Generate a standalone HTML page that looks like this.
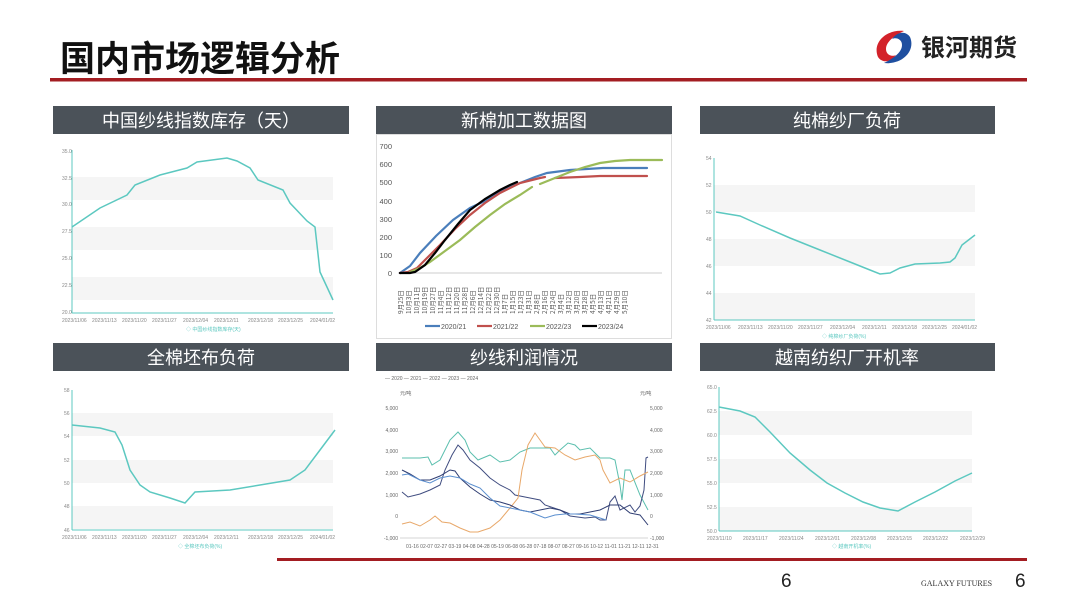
<!DOCTYPE html>
<html><head><meta charset="utf-8"><style>
body{margin:0;background:#fff;}
svg{display:block;font-family:"Liberation Sans","Noto Sans CJK SC",sans-serif;}
</style></head><body>
<svg width="1080" height="608" viewBox="0 0 1080 608" xmlns="http://www.w3.org/2000/svg">
<rect width="1080" height="608" fill="#fff"/>
<!-- title -->
<text x="60" y="71" font-size="35" font-weight="bold" fill="#111" font-family="'Noto Sans CJK SC',sans-serif">国内市场逻辑分析</text>
<rect x="50" y="78" width="977" height="3.5" fill="#a31d22"/>
<!-- logo -->
<g transform="translate(894,47)">
<path d="M-16,10 C-22,-4 -8,-18 10,-16 C2,-12 -8,-6 -8,2 C-8,8 -2,10 2,8 C-4,16 -12,16 -16,10Z" fill="#d3222a"/>
<path d="M16,-10 C22,4 8,18 -10,16 C-2,12 8,6 8,-2 C8,-8 2,-10 -2,-8 C4,-16 12,-16 16,-10Z" fill="#1f4fa0"/>
</g>
<text x="921" y="56" font-size="24" font-weight="bold" fill="#222" font-family="'Noto Sans CJK SC',sans-serif">银河期货</text>

<!-- headers -->
<g font-size="18" fill="#fff" text-anchor="middle" font-family="'Noto Sans CJK SC',sans-serif">
<rect x="53" y="106" width="296" height="28" fill="#4b5259"/><text x="201" y="127">中国纱线指数库存（天）</text>
<rect x="376" y="106" width="296" height="28" fill="#4b5259"/><text x="524" y="127">新棉加工数据图</text>
<rect x="700" y="106" width="295" height="28" fill="#4b5259"/><text x="847" y="127">纯棉纱厂负荷</text>
<rect x="53" y="343" width="296" height="28" fill="#4b5259"/><text x="201" y="364">全棉坯布负荷</text>
<rect x="376" y="343" width="296" height="28" fill="#4b5259"/><text x="524" y="364">纱线利润情况</text>
<rect x="700" y="343" width="295" height="28" fill="#4b5259"/><text x="847" y="364">越南纺织厂开机率</text>
</g>

<!-- chart 1 -->
<g font-size="5" fill="#888">
<rect x="72" y="177" width="261" height="23" fill="#f5f5f5"/><rect x="72" y="227" width="261" height="23" fill="#f5f5f5"/><rect x="72" y="277" width="261" height="23" fill="#f5f5f5"/>
<line x1="72" y1="150" x2="72" y2="313" stroke="#5cc8c0" stroke-width="1"/>
<line x1="72" y1="313" x2="333" y2="313" stroke="#5cc8c0" stroke-width="1"/>
<text x="62" y="153">35.0</text><text x="62" y="180">32.5</text><text x="62" y="206">30.0</text><text x="62" y="233">27.5</text><text x="62" y="260">25.0</text><text x="62" y="287">22.5</text><text x="62" y="314">20.0</text>
<text x="62" y="322">2023/11/06</text><text x="92" y="322">2023/11/13</text><text x="122" y="322">2023/11/20</text><text x="152" y="322">2023/11/27</text><text x="183" y="322">2023/12/04</text><text x="214" y="322">2023/12/11</text><text x="248" y="322">2023/12/18</text><text x="278" y="322">2023/12/25</text><text x="310" y="322">2024/01/02</text>
<text x="186" y="331" fill="#5cc8c0">◇ 中国纱线指数库存(天)</text>
<polyline fill="none" stroke="#5cc8c0" stroke-width="1.5" points="72,227 100,208 127,195 135,185 160,175 187,168 197,162 227,158 237,161 250,168 258,180 283,190 290,203 307,221 315,227 320,272 333,300"/>
</g>

<!-- chart 3 -->
<g font-size="5" fill="#888">
<rect x="714" y="185" width="261" height="27" fill="#f5f5f5"/><rect x="714" y="239" width="261" height="27" fill="#f5f5f5"/><rect x="714" y="293" width="261" height="27" fill="#f5f5f5"/>
<line x1="714" y1="158" x2="714" y2="320" stroke="#5cc8c0"/>
<line x1="714" y1="320" x2="975" y2="320" stroke="#5cc8c0"/>
<text x="706" y="160">54</text><text x="706" y="187">52</text><text x="706" y="214">50</text><text x="706" y="241">48</text><text x="706" y="268">46</text><text x="706" y="295">44</text><text x="706" y="322">42</text>
<text x="706" y="329">2023/11/06</text><text x="738" y="329">2023/11/13</text><text x="768" y="329">2023/11/20</text><text x="798" y="329">2023/11/27</text><text x="830" y="329">2023/12/04</text><text x="862" y="329">2023/12/11</text><text x="892" y="329">2023/12/18</text><text x="922" y="329">2023/12/25</text><text x="952" y="329">2024/01/02</text>
<text x="822" y="338" fill="#5cc8c0">◇ 纯棉纱厂负荷(%)</text>
<polyline fill="none" stroke="#5cc8c0" stroke-width="1.5" points="716,212 740,216 760,225 790,238 820,250 850,262 870,270 880,274 890,273 900,268 915,264 940,263 950,262 955,258 962,245 975,235"/>
</g>

<!-- chart 4 -->
<g font-size="5" fill="#888">
<rect x="72" y="413" width="261" height="23" fill="#f5f5f5"/><rect x="72" y="460" width="261" height="23" fill="#f5f5f5"/><rect x="72" y="506" width="261" height="23" fill="#f5f5f5"/>
<line x1="72" y1="390" x2="72" y2="530" stroke="#5cc8c0"/>
<line x1="72" y1="530" x2="333" y2="530" stroke="#5cc8c0"/>
<text x="64" y="392">58</text><text x="64" y="415">56</text><text x="64" y="438">54</text><text x="64" y="462">52</text><text x="64" y="485">50</text><text x="64" y="508">48</text><text x="64" y="532">46</text>
<text x="62" y="539">2023/11/06</text><text x="92" y="539">2023/11/13</text><text x="122" y="539">2023/11/20</text><text x="152" y="539">2023/11/27</text><text x="183" y="539">2023/12/04</text><text x="214" y="539">2023/12/11</text><text x="248" y="539">2023/12/18</text><text x="278" y="539">2023/12/25</text><text x="310" y="539">2024/01/02</text>
<text x="178" y="548" fill="#5cc8c0">◇ 全棉坯布负荷(%)</text>
<polyline fill="none" stroke="#5cc8c0" stroke-width="1.5" points="72,425 100,428 115,432 122,445 130,470 140,485 150,492 170,498 185,503 195,492 230,490 260,485 290,480 305,470 320,450 335,430"/>
</g>

<!-- chart 6 -->
<g font-size="5" fill="#888">
<rect x="719" y="411" width="253" height="24" fill="#f5f5f5"/><rect x="719" y="459" width="253" height="24" fill="#f5f5f5"/><rect x="719" y="507" width="253" height="24" fill="#f5f5f5"/>
<line x1="719" y1="387" x2="719" y2="531" stroke="#5cc8c0"/>
<line x1="719" y1="531" x2="972" y2="531" stroke="#5cc8c0"/>
<text x="707" y="389">65.0</text><text x="707" y="413">62.5</text><text x="707" y="437">60.0</text><text x="707" y="461">57.5</text><text x="707" y="485">55.0</text><text x="707" y="509">52.5</text><text x="707" y="533">50.0</text>
<text x="707" y="540">2023/11/10</text><text x="743" y="540">2023/11/17</text><text x="779" y="540">2023/11/24</text><text x="815" y="540">2023/12/01</text><text x="851" y="540">2023/12/08</text><text x="887" y="540">2023/12/15</text><text x="923" y="540">2023/12/22</text><text x="960" y="540">2023/12/29</text>
<text x="832" y="548" fill="#5cc8c0">◇ 越南开机率(%)</text>
<polyline fill="none" stroke="#5cc8c0" stroke-width="1.5" points="719,407 740,411 755,417 770,432 790,453 810,470 827,483 845,493 863,502 880,508 898,511 915,502 935,492 955,481 972,473"/>
</g>

<!-- chart 2 -->
<rect x="376.5" y="134.5" width="295" height="204" fill="#fff" stroke="#ddd"/>
<g font-size="7.5" fill="#555" text-anchor="end">
<text x="392" y="149">700</text><text x="392" y="167">600</text><text x="392" y="185">500</text><text x="392" y="204">400</text><text x="392" y="222">300</text><text x="392" y="240">200</text><text x="392" y="258">100</text><text x="392" y="276">0</text>
</g>
<line x1="398" y1="273" x2="662" y2="273" stroke="#ccc"/>
<g font-size="6.5" fill="#555" font-family="'Noto Sans CJK SC',sans-serif">
<text transform="translate(403,314) rotate(-90)">9月25日</text><text transform="translate(411,314) rotate(-90)">10月3日</text><text transform="translate(419,314) rotate(-90)">10月11日</text><text transform="translate(427,314) rotate(-90)">10月19日</text><text transform="translate(435,314) rotate(-90)">10月27日</text><text transform="translate(443,314) rotate(-90)">11月4日</text><text transform="translate(451,314) rotate(-90)">11月12日</text><text transform="translate(459,314) rotate(-90)">11月20日</text><text transform="translate(467,314) rotate(-90)">11月28日</text><text transform="translate(475,314) rotate(-90)">12月6日</text><text transform="translate(483,314) rotate(-90)">12月14日</text><text transform="translate(491,314) rotate(-90)">12月22日</text><text transform="translate(499,314) rotate(-90)">12月30日</text><text transform="translate(507,314) rotate(-90)">1月7日</text><text transform="translate(515,314) rotate(-90)">1月15日</text><text transform="translate(523,314) rotate(-90)">1月23日</text><text transform="translate(531,314) rotate(-90)">1月31日</text><text transform="translate(539,314) rotate(-90)">2月8日</text><text transform="translate(547,314) rotate(-90)">2月16日</text><text transform="translate(555,314) rotate(-90)">2月24日</text><text transform="translate(563,314) rotate(-90)">3月4日</text><text transform="translate(571,314) rotate(-90)">3月12日</text><text transform="translate(579,314) rotate(-90)">3月20日</text><text transform="translate(587,314) rotate(-90)">3月28日</text><text transform="translate(595,314) rotate(-90)">4月5日</text><text transform="translate(603,314) rotate(-90)">4月13日</text><text transform="translate(611,314) rotate(-90)">4月21日</text><text transform="translate(619,314) rotate(-90)">4月29日</text><text transform="translate(627,314) rotate(-90)">5月10日</text>
</g>
<g fill="none" stroke-width="2.2" stroke-linecap="round">
<polyline stroke="#4a7ebb" points="400,273 410,266 420,253 436,236 453,220 470,208 487,200 503,190 520,183 535,177 547,173 570,170 603,168 647,168"/>
<polyline stroke="#c0504d" points="400,273 408,272 417,268 430,255 440,245 455,229 470,215 485,203 500,193 512,187 520,183 540,178 545,177"/>
<polyline stroke="#c0504d" points="555,178 580,177 600,176 647,176"/>
<polyline stroke="#9bbb59" points="410,272 420,268 430,262 445,251 460,240 475,227 490,215 505,204 520,195 532,187"/>
<polyline stroke="#9bbb59" points="540,184 555,178 570,172 585,167 600,163 615,161 630,160 662,160"/>
<polyline stroke="#000" points="400,273 410,273 415,272 425,265 435,253 445,240 458,224 470,210 485,199 500,190 510,185 517,182"/>
</g>
<g font-size="7" fill="#555">
<line x1="425" y1="326" x2="440" y2="326" stroke="#4a7ebb" stroke-width="2.2"/><text x="441" y="329">2020/21</text>
<line x1="477" y1="326" x2="492" y2="326" stroke="#c0504d" stroke-width="2.2"/><text x="493" y="329">2021/22</text>
<line x1="530" y1="326" x2="545" y2="326" stroke="#9bbb59" stroke-width="2.2"/><text x="546" y="329">2022/23</text>
<line x1="582" y1="326" x2="597" y2="326" stroke="#000" stroke-width="2.2"/><text x="598" y="329">2023/24</text>
</g>

<!-- chart 5 -->
<g font-size="5" fill="#666">
<text x="385" y="380">— 2020  — 2021  — 2022  — 2023  — 2024</text>
<text x="400" y="395">元/吨</text><text x="640" y="395">元/吨</text>
<g text-anchor="end"><text x="398" y="410">5,000</text><text x="398" y="432">4,000</text><text x="398" y="453">3,000</text><text x="398" y="475">2,000</text><text x="398" y="497">1,000</text><text x="398" y="518">0</text><text x="398" y="540">-1,000</text></g>
<text x="650" y="410">5,000</text><text x="650" y="432">4,000</text><text x="650" y="453">3,000</text><text x="650" y="475">2,000</text><text x="650" y="497">1,000</text><text x="650" y="518">0</text><text x="650" y="540">-1,000</text>
<text x="406" y="548">01-16  02-07  02-27  03-19  04-08  04-28  05-19  06-08  06-28  07-18  08-07  08-27  09-16  10-12  11-01  11-21  12-11  12-31</text>
</g>
<line x1="400" y1="538" x2="648" y2="538" stroke="#aaa" stroke-width="0.6"/>
<g fill="none" stroke-width="1">
<polyline stroke="#5bbfae" points="402,458 420,458 428,457 432,465 440,460 450,440 458,432 465,440 470,452 478,460 490,455 500,462 510,460 520,452 530,448 540,448 550,448 555,455 560,450 568,443 575,445 580,450 590,448 600,458 610,458 615,460 620,485 622,500 625,470 630,470 640,495 648,510"/>
<polyline stroke="#404d80" points="402,492 408,497 420,494 430,490 440,485 445,470 452,455 458,445 463,450 470,460 480,468 490,478 500,485 510,490 515,495 530,498 540,500 545,505 560,510 570,516 585,518 595,517 600,520 606,520 610,502 615,496 620,510 630,505 635,512 640,506 644,490 646,458 648,457"/>
<polyline stroke="#e8a86a" points="402,524 410,522 420,526 430,520 435,516 442,522 450,523 460,528 470,532 478,532 490,528 500,520 510,508 518,498 522,470 528,445 535,433 540,440 545,447 555,448 565,455 575,460 585,457 595,455 600,460 603,470 610,483 620,478 630,482 640,476 648,472"/>
<polyline stroke="#2f3d72" points="402,470 410,474 420,480 430,480 440,476 450,470 455,471 460,478 470,487 480,494 490,500 500,502 510,505 520,510 530,512 540,510 550,508 560,510 570,514 580,514 590,512 600,510 610,505 620,505 630,513 640,515 648,525"/>
<polyline stroke="#5b8fcf" points="402,475 408,474 420,480 430,483 440,478 450,476 460,478 470,484 480,488 490,498 500,506 510,508 520,510 530,512 540,516 545,518 555,515 565,514 575,514 590,515 600,518 606,520"/>
</g>

<!-- footer -->
<rect x="277" y="558" width="750" height="3" fill="#a31d22"/>
<text x="781" y="587" font-size="19" fill="#222">6</text>
<text x="921" y="586" font-size="8" fill="#333" font-family="'Liberation Serif',serif">GALAXY FUTURES</text>
<text x="1015" y="587" font-size="19" fill="#222">6</text>
</svg>
</body></html>
